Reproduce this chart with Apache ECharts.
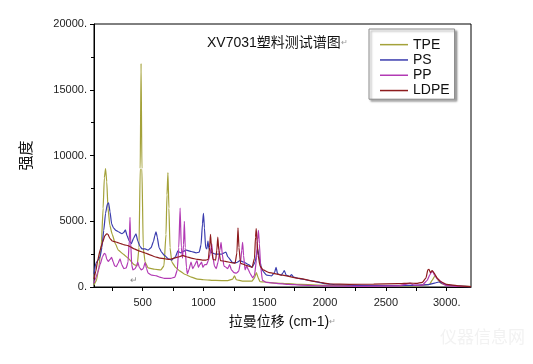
<!DOCTYPE html>
<html>
<head>
<meta charset="utf-8">
<script src="https://cdn.jsdelivr.net/npm/echarts@6/dist/echarts.min.js"></script>
<style>html,body{margin:0;padding:0;background:#fff}#c{width:533px;height:364px}</style>
</head>
<body>
<div id="c"></div>
<script>
var titleText = 'XV7031塑料测试谱图';
var xName = '拉曼位移 (cm-1)';
var yName = '强度';
var seriesNames = ['TPE', 'PS', 'PP', 'LDPE'];
var xLabelValues = [500, 1000, 1500, 2000, 2500, 3000];
var xTickValues = [250, 500, 750, 1000, 1250, 1500, 1750, 2000, 2250, 2500, 2750, 3000];

var tpe = [[100,150],[120,500],[140,1500],[160,3200],[175,6000],[185,8300],[195,9000],[205,8000],[215,6000],[230,4700],[250,4000],[275,3300],[300,2800],[340,2500],[380,2200],[430,1700],[455,1600],[470,3000],[480,9000],[487,17000],[494,9000],[505,3000],[520,1900],[545,1450],[600,1350],[650,1300],[675,1600],[692,4000],[700,7000],[708,8700],[716,6000],[725,3000],[740,1900],[770,1500],[800,1250],[850,950],[900,750],[950,600],[1000,550],[1100,500],[1200,480],[1240,600],[1255,850],[1270,550],[1320,450],[1400,450],[1420,700],[1435,1100],[1450,700],[1465,400],[1500,380],[1600,300],[1700,250],[1800,200],[2000,130],[2200,100],[2500,80],[2750,90],[2860,200],[2880,500],[2900,800],[2910,850],[2930,500],[2960,250],[3000,130],[3100,60],[3200,30]];

var ps = [[100,1000],[115,1800],[130,2000],[150,2300],[165,3000],[180,4300],[195,5600],[210,6300],[220,6400],[232,5700],[245,4800],[260,4500],[280,4300],[300,4200],[330,4050],[345,4150],[358,4350],[372,3900],[390,3500],[407,3300],[425,3700],[445,4050],[460,3500],[478,3100],[495,2900],[520,2900],[545,2800],[570,3000],[590,3500],[600,3900],[610,4200],[620,3800],[635,3000],[655,2650],[680,2400],[710,2150],[740,2050],[770,2300],[790,2750],[810,2600],[830,2700],[860,2800],[900,2700],[940,2600],[965,2650],[980,3200],[992,4800],[1000,5600],[1008,4500],[1018,3000],[1028,2900],[1037,3500],[1045,2900],[1070,2600],[1100,2500],[1150,2500],[1170,2600],[1185,2650],[1200,2300],[1240,1850],[1270,1850],[1300,2000],[1330,1900],[1370,1700],[1400,1500],[1425,1900],[1445,2900],[1460,2200],[1480,1300],[1520,900],[1560,850],[1585,1100],[1597,1500],[1610,1000],[1640,900],[1655,1100],[1665,1250],[1680,900],[1710,800],[1725,950],[1740,750],[1800,620],[1900,450],[2000,250],[2100,170],[2300,120],[2500,100],[2700,120],[2850,180],[2900,300],[2935,380],[2960,300],[3000,160],[3100,70],[3200,30]];

var pp = [[100,300],[115,700],[130,1100],[150,1700],[170,2300],[185,2550],[195,2500],[205,2100],[218,1950],[232,2100],[245,2250],[258,1900],[270,1600],[283,1550],[298,1800],[314,2150],[328,1700],[345,1400],[365,1450],[380,1900],[390,3500],[396,5300],[402,3300],[410,1700],[420,1300],[438,1400],[450,1600],[460,1900],[472,1500],[490,1300],[505,1400],[520,1850],[532,1400],[545,1050],[575,900],[615,850],[640,750],[680,650],[730,650],[765,750],[785,1300],[797,3000],[808,6000],[818,3000],[828,2200],[836,3200],[843,5000],[850,3000],[860,1500],[868,1000],[880,1300],[898,1900],[912,1400],[925,1600],[947,2000],[958,1500],[970,1700],[985,1900],[995,1500],[1010,1700],[1025,1700],[1040,2000],[1055,2500],[1068,3300],[1078,2300],[1090,1600],[1105,1400],[1120,1900],[1135,2800],[1145,3400],[1155,2500],[1168,1600],[1185,1500],[1200,1400],[1215,1700],[1230,1300],[1250,1100],[1270,1050],[1290,1200],[1305,1900],[1315,2800],[1322,3400],[1330,2400],[1342,1300],[1355,1600],[1370,1300],[1385,1000],[1405,700],[1420,900],[1435,2000],[1445,3600],[1452,4300],[1460,3300],[1470,1600],[1485,500],[1520,350],[1600,280],[1700,200],[1800,150],[2000,80],[2300,50],[2600,80],[2700,280],[2730,150],[2800,150],[2840,500],[2860,900],[2873,1100],[2885,1200],[2900,900],[2925,600],[2950,450],[2975,200],[3000,100],[3100,40],[3200,20]];

var ldpe = [[100,600],[115,1200],[130,2000],[150,2800],[170,3400],[190,3900],[205,4050],[215,4000],[230,3700],[250,3500],[270,3450],[290,3400],[320,3300],[350,3200],[380,3150],[400,3050],[430,2900],[470,2750],[500,2650],[530,2550],[560,2450],[600,2300],[640,2200],[680,2150],[720,2100],[760,2200],[800,2300],[830,2400],[860,2300],[900,2200],[950,2100],[990,2050],[1020,2050],[1040,2100],[1050,3000],[1058,4000],[1066,3000],[1078,2100],[1100,2050],[1110,2800],[1118,3800],[1126,2800],[1140,2000],[1180,1950],[1230,1850],[1260,1800],[1275,2600],[1284,4500],[1292,3000],[1305,1800],[1350,1650],[1400,1500],[1420,2200],[1428,3800],[1434,4450],[1440,3500],[1450,2400],[1465,1600],[1490,1300],[1540,1100],[1650,900],[1790,650],[1930,400],[2040,230],[2200,200],[2400,220],[2600,250],[2700,300],[2750,270],[2800,350],[2830,700],[2845,1300],[2855,1350],[2865,1100],[2880,1250],[2895,1100],[2920,700],[2950,400],[3000,200],[3100,80],[3200,30]];

var colors = ['#a4a23a', '#3a3cae', '#b23ab4', '#8e1c1e'];
var font = '"Liberation Sans", Arial, "Noto Sans CJK SC", sans-serif';

var chart = echarts.init(document.getElementById('c'), null, {renderer: 'canvas'});
var allData = [tpe, ps, pp, ldpe];
chart.setOption({
  animation: false,
  backgroundColor: '#fff',
  textStyle: {fontFamily: font},
  grid: {left: 94, right: 62, top: 24, bottom: 77, show: true, borderColor: '#000', borderWidth: 1},
  title: {
    text: '{t|' + titleText + '}{m|↵}',
    left: 207, top: 36, padding: 0,
    textStyle: {fontWeight: 'normal', rich: {t: {fontSize: 14, fontWeight: 'normal', color: '#111', fontFamily: font}, m: {fontSize: 8, color: '#999'}}}
  },
  legend: {
    orient: 'vertical', left: 369, top: 29,
    padding: [8, 5, 1, 11],
    icon: 'rect',
    itemWidth: 28, itemHeight: 1.5, itemGap: 0,
    data: seriesNames,
    backgroundColor: '#fff',
    borderColor: '#8a8a8a', borderWidth: 1,
    shadowColor: 'rgba(0,0,0,0.35)', shadowBlur: 2, shadowOffsetX: 2, shadowOffsetY: 2,
    textStyle: {fontSize: 14, lineHeight: 15.3, color: '#111', fontFamily: font}
  },
  xAxis: {
    type: 'value', min: 100, max: 3200,
    name: xName + '{m|↵}', nameLocation: 'middle', nameGap: 28,
    nameTextStyle: {fontSize: 14, color: '#111', fontFamily: font, rich: {m: {fontSize: 8, color: '#999'}}},
    axisLine: {show: true, lineStyle: {color: '#000', width: 1}},
    axisTick: {show: true, length: 4, lineStyle: {color: '#000'}, customValues: xTickValues},
    axisLabel: {fontSize: 11, color: '#222', margin: 10, customValues: xLabelValues,
      formatter: function (v) { return v === 3000 ? '3000.' : String(v); }},
    splitLine: {show: false}
  },
  yAxis: {
    type: 'value', min: 0, max: 20000, interval: 5000,
    name: yName, nameLocation: 'middle', nameGap: 60, nameRotate: 90,
    nameTextStyle: {fontSize: 15, color: '#111', fontFamily: font},
    axisLine: {show: true, lineStyle: {color: '#000', width: 1}},
    axisTick: {show: true, length: 4, lineStyle: {color: '#000'}},
    minorTick: {show: true, splitNumber: 2, length: 3, lineStyle: {color: '#000'}},
    axisLabel: {fontSize: 11, color: '#222', margin: 7, formatter: function (v) { return v + '.'; }},
    splitLine: {show: false}
  },
  graphic: [
    {type: 'text', left: 130, top: 276, style: {text: '↵', fontSize: 9, fill: '#888'}},
    {type: 'text', right: 8, top: 330, style: {text: '仪器信息网', fontSize: 17, fill: '#f2f2f2', fontFamily: font}}
  ],
  series: seriesNames.map(function (n, i) {
    return {
      name: n, type: 'line', data: allData[i], symbol: 'none',
      lineStyle: {width: 1.2, color: colors[i]}, itemStyle: {color: colors[i]},
      smooth: 0.15, smoothMonotone: 'x', z: 2 + i
    };
  })
});
</script>
</body>
</html>
